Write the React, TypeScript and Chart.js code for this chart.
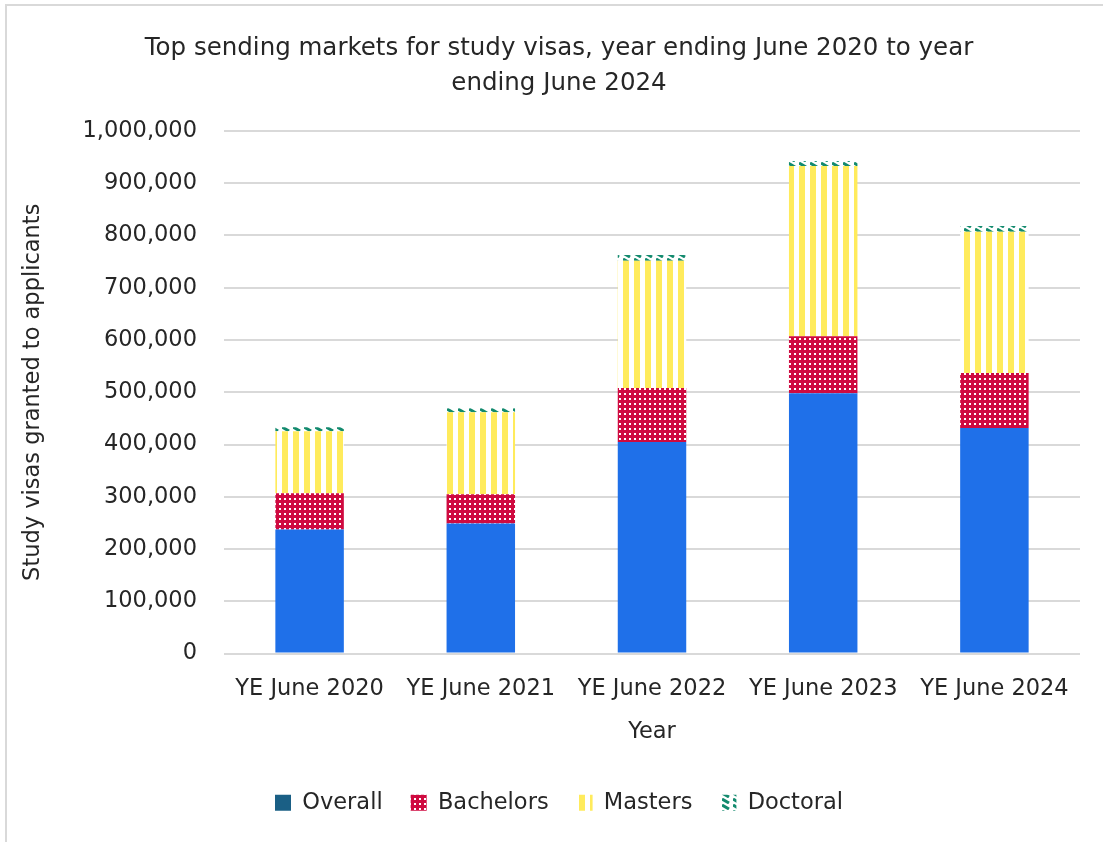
import React, { useEffect, useRef } from 'react';
import { Chart, registerables } from 'chart.js';
Chart.register(...registerables);

const categories = ['YE June 2020', 'YE June 2021', 'YE June 2022', 'YE June 2023', 'YE June 2024'];
const overall = [237500, 249000, 404800, 498000, 431600];
const bachelors = [69000, 55600, 103400, 109300, 105200];
const masters = [118800, 157000, 243300, 325700, 270300];
const doctoral = [7700, 7700, 11000, 9500, 10900];
const titleLines = ['Top sending markets for study visas, year ending June 2020 to year', 'ending June 2024'];
const yMax = 1000000;
const yStep = 100000;

const FONT = "'DejaVu Sans'";
const TEXT = '#262626';
const FS = 22.5;

function tile(w: number, h: number, draw: (c: CanvasRenderingContext2D) => void): CanvasPattern {
  const cv = document.createElement('canvas');
  cv.width = w;
  cv.height = h;
  const c = cv.getContext('2d')!;
  draw(c);
  const ctx = document.createElement('canvas').getContext('2d')!;
  return ctx.createPattern(cv, 'repeat')!;
}

export default function App() {
  const ref = useRef<HTMLCanvasElement>(null);
  useEffect(() => {
    const bachPat = tile(5, 5, (c) => {
      c.fillStyle = '#cf0a40';
      c.fillRect(0, 0, 5, 5);
      c.fillStyle = '#ffffff';
      c.fillRect(2, 2, 2, 2);
    });
    const mastPat = tile(11, 4, (c) => {
      c.fillStyle = '#ffffff';
      c.fillRect(0, 0, 11, 4);
      c.fillStyle = '#ffeb5c';
      c.fillRect(0, 0, 6, 4);
    });
    const docPat = tile(11, 6, (c) => {
      c.fillStyle = '#ffffff';
      c.fillRect(0, 0, 11, 6);
      c.strokeStyle = '#138a6e';
      c.lineWidth = 3;
      c.beginPath();
      c.moveTo(0, 1);
      c.lineTo(7, 5);
      c.stroke();
    });
    const chart = new Chart(ref.current!, {
      type: 'bar',
      data: {
        labels: categories,
        datasets: [
          { label: 'Overall', data: overall, backgroundColor: '#1f70e9' },
          { label: 'Bachelors', data: bachelors, backgroundColor: bachPat as any },
          { label: 'Masters', data: masters, backgroundColor: mastPat as any },
          { label: 'Doctoral', data: doctoral, backgroundColor: docPat as any },
        ],
      },
      options: {
        animation: false,
        responsive: false,
        layout: { padding: { left: 0, right: 0, top: 0, bottom: 18 } },
        datasets: { bar: { categoryPercentage: 1, barPercentage: 0.4 } } as any,
        plugins: {
          tooltip: { enabled: false },
          title: {
            display: true,
            text: titleLines,
            color: TEXT,
            font: { family: FONT, size: 24.5, weight: 'normal', lineHeight: 35 / 24.5 },
            padding: { top: 25, bottom: 30 },
          },
          legend: {
            position: 'bottom',
            labels: {
              color: TEXT,
              font: { family: FONT, size: FS },
              boxWidth: 16,
              boxHeight: 16,
              padding: 28,
              generateLabels: (ch: any) => {
                const fills = ['#1a5f85', bachPat, mastPat, docPat];
                return ch.data.datasets.map((d: any, i: number) => ({
                  text: d.label,
                  fillStyle: fills[i],
                  strokeStyle: 'rgba(0,0,0,0)',
                  lineWidth: 0,
                  hidden: false,
                  datasetIndex: i,
                  fontColor: TEXT,
                }));
              },
            },
          },
        },
        scales: {
          x: {
            stacked: true,
            grid: { display: false, drawTicks: false },
            border: { display: false },
            ticks: { color: TEXT, font: { family: FONT, size: FS }, padding: 22, maxRotation: 0 },
            title: { display: true, text: 'Year', color: TEXT, font: { family: FONT, size: FS }, padding: { top: 0, bottom: 17.5 } },
            afterFit: (s: any) => { s.height = 110; },
          },
          y: {
            stacked: true,
            min: 0,
            max: yMax,
            grid: { color: '#d9d9d9', lineWidth: 2, drawTicks: false },
            border: { display: false },
            ticks: {
              stepSize: yStep,
              color: TEXT,
              font: { family: FONT, size: FS },
              padding: 27,
              callback: (v: any) => Number(v).toLocaleString('en-US'),
            },
            title: {
              display: true,
              text: 'Study visas granted to applicants',
              color: TEXT,
              font: { family: FONT, size: FS },
              padding: { top: 12.5, bottom: 0 },
            },
            afterFit: (s: any) => { s.width = 217; },
          },
          yRight: {
            position: 'right',
            display: true,
            grid: { display: false, drawTicks: false },
            border: { display: false },
            ticks: { display: false },
            afterFit: (s: any) => { s.width = 31; },
          },
        },
      },
    });
    return () => chart.destroy();
  }, []);
  return (
    <div style={{ position: 'fixed', left: 0, top: 0, width: 1103, height: 842, overflow: 'hidden', background: '#fff' }}>
      <div style={{ position: 'absolute', left: 5, top: 4, width: 1108, height: 860, border: '2px solid #d9d9d9', boxSizing: 'border-box' }}>
        <canvas ref={ref} width={1104} height={836} style={{ position: 'absolute', left: 0, top: 0, width: 1104, height: 836 }} />
      </div>
    </div>
  );
}
